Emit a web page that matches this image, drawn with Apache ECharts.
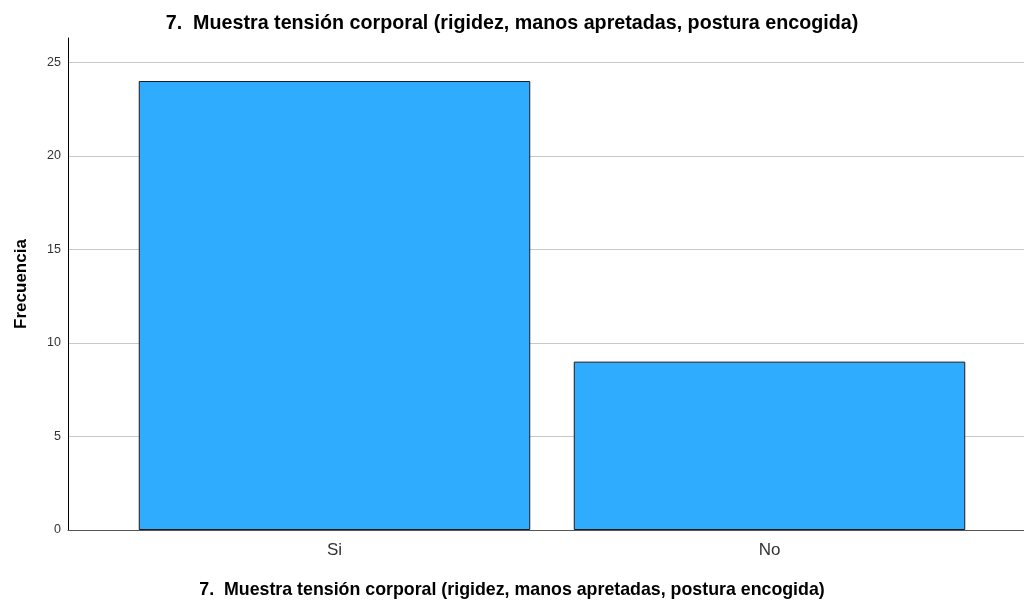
<!DOCTYPE html>
<html>
<head>
<meta charset="utf-8">
<script src="https://cdn.jsdelivr.net/npm/echarts@6/dist/echarts.min.js"></script>
<style>
  html, body { margin: 0; padding: 0; background: #fff; }
  #chart { width: 1024px; height: 601px; }
</style>
</head>
<body>
<div id="chart"></div>
<script>
const categories = ['Si', 'No']
const frecuencia = [24, 9]
const yTicks = [0, 5, 10, 15, 20, 25]

const titleText = '7.  Muestra tensión corporal (rigidez, manos apretadas, postura encogida)'
const font = '"Liberation Sans", Arial, sans-serif'
const yMax = 26.3

const chart = echarts.init(document.getElementById('chart'))

chart.setOption({
  backgroundColor: '#ffffff',
  animation: false,
  title: [
    {
      text: titleText,
      left: 'center',
      top: 9,
      textStyle: { fontFamily: font, fontSize: 19.7, fontWeight: 'bold', color: '#000' }
    },
    {
      // x axis title, centred on the page like in SPSS
      text: titleText,
      left: 'center',
      top: 576,
      textStyle: { fontFamily: font, fontSize: 17.8, fontWeight: 'bold', color: '#000' }
    }
  ],
  grid: [
    // frame: axis lines over the full plot height
    { left: 68, right: 0, top: 38, bottom: 71, outerBoundsMode: 'none' },
    // bars sit in a narrower band
    { left: 117, right: 37, top: 38, bottom: 71, outerBoundsMode: 'none' },
    // gridlines and tick labels, 0..25 only
    { left: 68, right: 0, top: 62.5, bottom: 71, outerBoundsMode: 'none' }
  ],
  xAxis: [
    {
      gridIndex: 0,
      type: 'category',
      data: [''],
      z: 5,
      axisLine: { show: true, lineStyle: { color: '#555', width: 1 } },
      axisTick: { show: false },
      axisLabel: { show: false }
    },
    {
      gridIndex: 1,
      type: 'category',
      data: categories,
      axisLine: { show: false },
      axisTick: { show: false },
      axisLabel: { fontFamily: font, fontSize: 17, color: '#333', margin: 12 }
    },
    {
      gridIndex: 2,
      type: 'category',
      data: [''],
      show: false
    }
  ],
  yAxis: [
    {
      gridIndex: 0,
      type: 'value',
      min: 0,
      max: yMax,
      z: 5,
      axisLine: { show: true, lineStyle: { color: '#000', width: 1 } },
      axisTick: { show: false },
      axisLabel: { show: false },
      splitLine: { show: false },
      name: 'Frecuencia',
      nameLocation: 'middle',
      nameGap: 38,
      nameTextStyle: { fontFamily: font, fontSize: 17, fontWeight: 'bold', color: '#000' }
    },
    {
      gridIndex: 1,
      type: 'value',
      min: 0,
      max: yMax,
      show: false
    },
    {
      gridIndex: 2,
      type: 'value',
      min: 0,
      max: 25,
      interval: 5,
      axisLine: { show: false },
      axisTick: { show: false },
      axisLabel: {
        fontFamily: font, fontSize: 12.5, color: '#333', margin: 7,
        padding: [4, 0, 0, 0],
        formatter: v => (yTicks.includes(v) ? String(v) : '')
      },
      splitLine: { show: true, lineStyle: { color: '#c8c8c8', width: 1 } }
    }
  ],
  series: [{
    type: 'bar',
    xAxisIndex: 1,
    yAxisIndex: 1,
    data: frecuencia,
    barWidth: '90%',
    itemStyle: { color: '#30acff', borderColor: '#1a1a1a', borderWidth: 1 }
  }]
})
</script>
</body>
</html>
